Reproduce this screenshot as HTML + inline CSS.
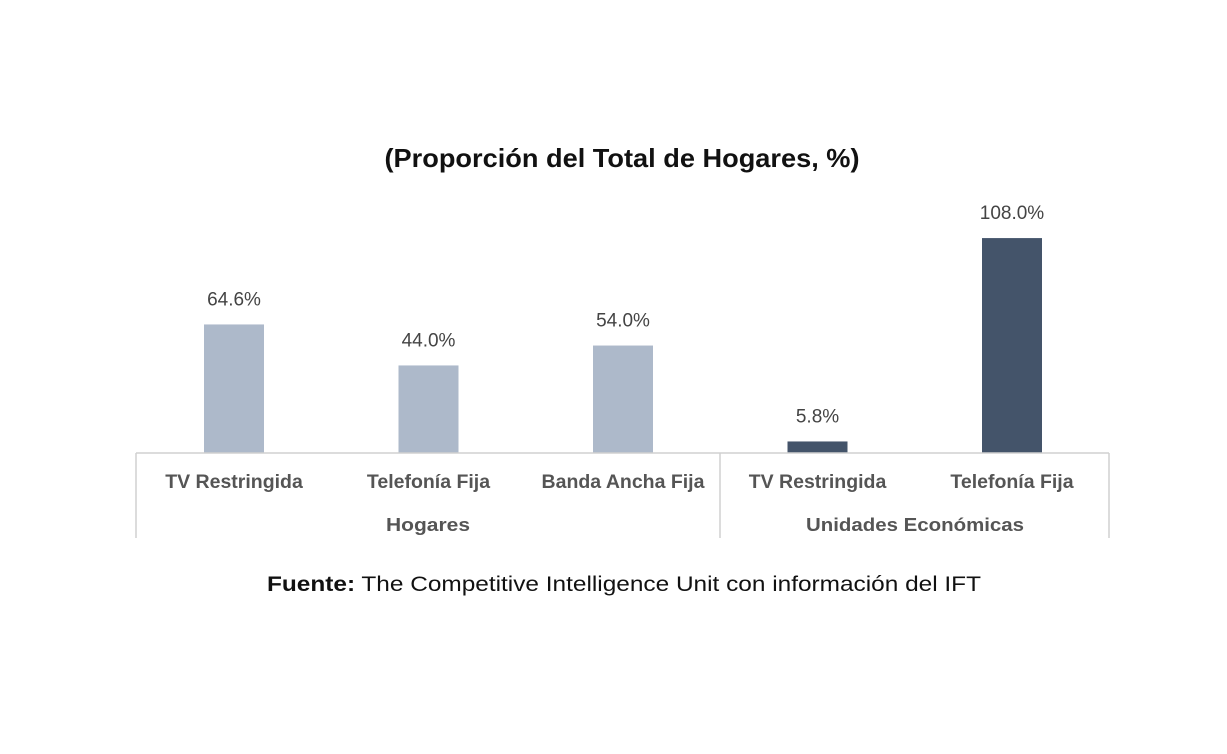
<!DOCTYPE html>
<html><head><meta charset="utf-8"><style>
html,body{margin:0;padding:0;background:#fff;}
svg{display:block;font-family:"Liberation Sans Narrow","Liberation Sans",sans-serif;}
</style></head><body>
<svg id="chart" width="1227" height="754" viewBox="0 0 1227 754">
<text x="622" y="167" text-anchor="middle" font-size="26" font-weight="bold" fill="#111" textLength="475" lengthAdjust="spacingAndGlyphs">(Proporción del Total de Hogares, %)</text>
<g id="bars"></g>
<g id="axis">
<line x1="136" y1="453" x2="1109" y2="453" stroke="#d0d0d0" stroke-width="1.5"/>
<line x1="136" y1="453" x2="136" y2="538" stroke="#d0d0d0" stroke-width="1.5"/>
<line x1="720" y1="453" x2="720" y2="538" stroke="#d0d0d0" stroke-width="1.5"/>
<line x1="1109" y1="453" x2="1109" y2="538" stroke="#d0d0d0" stroke-width="1.5"/>
</g>
<text x="428" y="531" text-anchor="middle" font-size="18" font-weight="bold" fill="#555" textLength="84" lengthAdjust="spacingAndGlyphs">Hogares</text>
<text x="915" y="531" text-anchor="middle" font-size="18" font-weight="bold" fill="#555" textLength="218" lengthAdjust="spacingAndGlyphs">Unidades Económicas</text>
<text x="267" y="591" font-size="21" fill="#111" textLength="714" lengthAdjust="spacingAndGlyphs"><tspan font-weight="bold">Fuente:</tspan> The Competitive Intelligence Unit con información del IFT</text>
</svg>
<script>
const categories=["TV Restringida","Telefonía Fija","Banda Ancha Fija","TV Restringida","Telefonía Fija"];
const values=[64.6,44.0,54.0,5.8,108.0];
const valueLabels=["64.6%","44.0%","54.0%","5.8%","108.0%"];
const groups=["hogares","hogares","hogares","unidades","unidades"];
const NS="http://www.w3.org/2000/svg";
const baseY=453, pxPer=1.99, x0=234, step=194.5, bw=60;
function xScale(i){return x0+i*step;}
function yScale(v){return baseY-v*pxPer;}
const g=document.getElementById('bars');
const svg=document.getElementById('chart');
categories.forEach((c,i)=>{
  const r=document.createElementNS(NS,'rect');
  
  
  r.setAttribute('x',xScale(i)-bw/2);
  r.setAttribute('y',yScale(values[i]));
  r.setAttribute('width',bw);
  r.setAttribute('height',baseY-yScale(values[i]));
  r.setAttribute('fill',groups[i]==='hogares'?'#adb9ca':'#44546a');
  g.appendChild(r);
  const t=document.createElementNS(NS,'text');
  
  
  t.setAttribute('x',xScale(i));
  t.setAttribute('y',yScale(values[i])-19);
  t.setAttribute('text-anchor','middle');
  t.setAttribute('font-size','19');
  t.setAttribute('fill','#444');
  t.textContent=valueLabels[i];
  g.appendChild(t);
  const l=document.createElementNS(NS,'text');
  
  
  l.setAttribute('x',xScale(i));
  l.setAttribute('y',488);
  l.setAttribute('text-anchor','middle');
  l.setAttribute('font-size','19.5');
  l.setAttribute('font-weight','bold');
  l.setAttribute('fill','#555');
  l.textContent=c;
  svg.appendChild(l);
});
</script>
</body></html>
